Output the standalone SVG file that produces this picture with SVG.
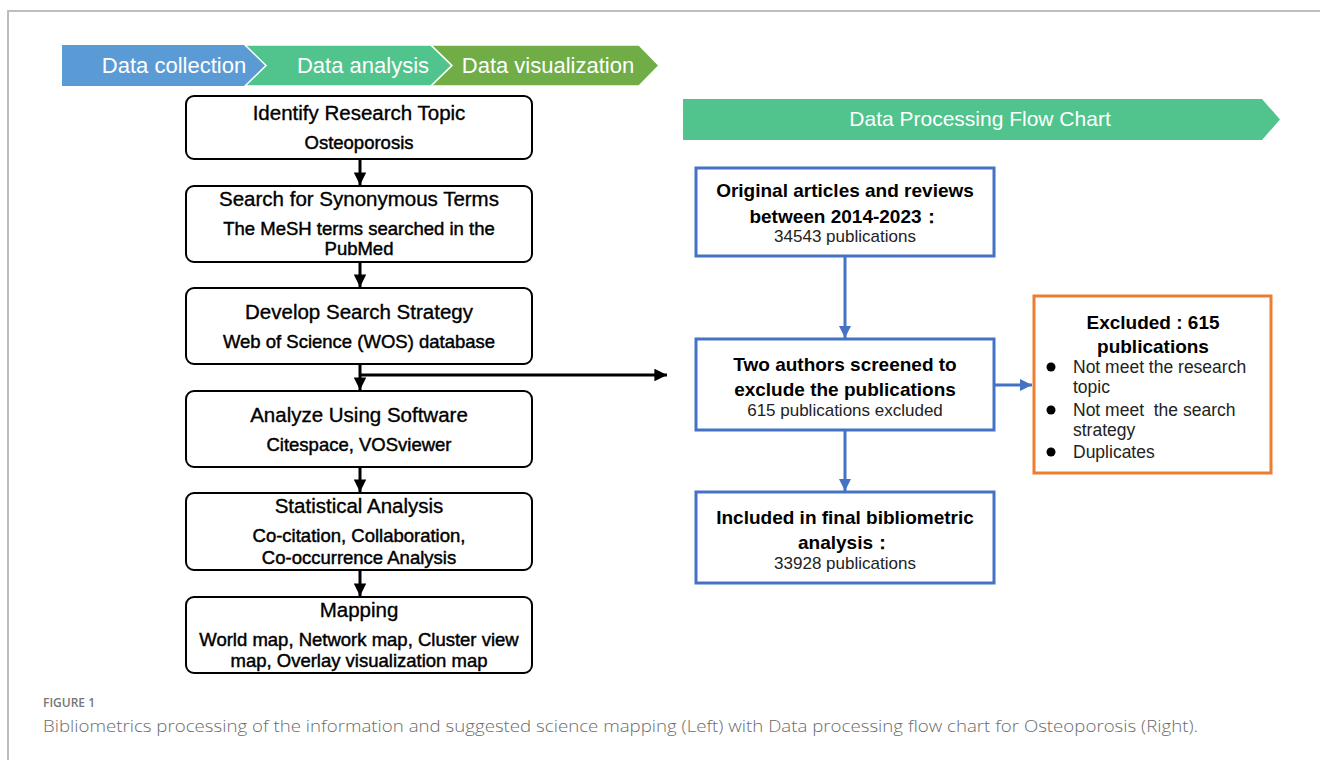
<svg xmlns="http://www.w3.org/2000/svg" width="1320" height="760" viewBox="0 0 1320 760">
<defs>
<style>
.frame{fill:none;stroke:#bdbdbd;stroke-width:2}
.lbox{fill:#fff;stroke:#000;stroke-width:2}
.bbox{fill:#fff;stroke:#4472C4;stroke-width:3}
.obox{fill:#fff;stroke:#ED7D31;stroke-width:3}
.t{font-family:"Liberation Sans",Arial,sans-serif;text-anchor:middle;fill:#000}
.ti{font-size:20.5px;stroke:#000;stroke-width:0.35}
.sub{font-size:18.5px;stroke:#000;stroke-width:0.45}
.rb{font-size:19px;font-weight:bold}
.rr{font-size:17px;fill:#222}
.bn{font-family:"Liberation Sans",Arial,sans-serif;fill:#fff;text-anchor:middle;font-size:22px}
.bl{font-family:"Liberation Sans",Arial,sans-serif;font-size:17.5px;fill:#222}
.cap{font-family:"Open Sans","Liberation Sans",sans-serif;fill:#6b6b6b}
.kline{stroke:#000;stroke-width:3;fill:none}
.bline{stroke:#4472C4;stroke-width:3;fill:none}
</style>
<marker id="ak" viewBox="0 0 10 10" refX="10" refY="5" markerWidth="4.2" markerHeight="4.2" orient="auto" markerUnits="strokeWidth"><path d="M0,0 L10,5 L0,10 z" fill="#000"/></marker>
<marker id="ab" viewBox="0 0 10 10" refX="10" refY="5" markerWidth="4" markerHeight="4" orient="auto" markerUnits="strokeWidth"><path d="M0,0 L10,5 L0,10 z" fill="#4472C4"/></marker>
</defs>
<rect width="1320" height="760" fill="#fff"/>
<path class="frame" d="M8,770 L8,11 L1330,11"/>

<g id="phase-banner">
<polygon points="62,45 245,45 266,65.5 245,86 62,86" fill="#5B9BD5"/>
<polygon points="245,45 431,45 452,65.5 431,86 245,86 266,65.5" fill="#50C48C" stroke="#fff" stroke-width="1.5"/>
<polygon points="431,45 639,45 659,65.5 639,86 431,86 452,65.5" fill="#70AD47" stroke="#fff" stroke-width="1.5"/>
<text class="bn" x="174" y="73">Data collection</text>
<text class="bn" x="363" y="73">Data analysis</text>
<text class="bn" x="548" y="73">Data visualization</text>
</g>

<g id="n1">
<rect class="lbox" x="186" y="96" width="346" height="63" rx="8"/>
<text class="t ti" x="359" y="120">Identify Research Topic</text>
<text class="t sub" x="359" y="149">Osteoporosis</text>
</g>
<g id="n2">
<rect class="lbox" x="186" y="186" width="346" height="76" rx="8"/>
<text class="t ti" x="359" y="206">Search for Synonymous Terms</text>
<text class="t sub" x="359" y="235">The MeSH terms searched in the</text>
<text class="t sub" x="359" y="255">PubMed</text>
</g>
<g id="n3">
<rect class="lbox" x="186" y="288" width="346" height="76" rx="8"/>
<text class="t ti" x="359" y="319">Develop Search Strategy</text>
<text class="t sub" x="359" y="348">Web of Science (WOS) database</text>
</g>
<g id="n4">
<rect class="lbox" x="186" y="391" width="346" height="76" rx="8"/>
<text class="t ti" x="359" y="422">Analyze Using Software</text>
<text class="t sub" x="359" y="451">Citespace, VOSviewer</text>
</g>
<g id="n5">
<rect class="lbox" x="186" y="493" width="346" height="77" rx="8"/>
<text class="t ti" x="359" y="513">Statistical Analysis</text>
<text class="t sub" x="359" y="542">Co-citation, Collaboration,</text>
<text class="t sub" x="359" y="564">Co-occurrence Analysis</text>
</g>
<g id="n6">
<rect class="lbox" x="186" y="597" width="346" height="76" rx="8"/>
<text class="t ti" x="359" y="617">Mapping</text>
<text class="t sub" x="359" y="646">World map, Network map, Cluster view</text>
<text class="t sub" x="359" y="667">map, Overlay visualization map</text>
</g>

<g id="flow-banner">
<polygon points="683,99 1262,99 1280,119.5 1262,140 683,140" fill="#50C48C"/>
<text class="bn" x="980" y="126" style="font-size:21px">Data Processing Flow Chart</text>
</g>

<g id="r1">
<rect class="bbox" x="696" y="168" width="298" height="88"/>
<text class="t rb" x="845" y="197">Original articles and reviews</text>
<text class="t rb" x="845" y="223">between 2014-2023：</text>
<text class="t rr" x="845" y="242">34543 publications</text>
</g>
<g id="r2">
<rect class="bbox" x="696" y="339" width="298" height="91"/>
<text class="t rb" x="845" y="371">Two authors screened to</text>
<text class="t rb" x="845" y="396">exclude the publications</text>
<text class="t rr" x="845" y="416">615 publications excluded</text>
</g>
<g id="r3">
<rect class="obox" x="1034" y="296" width="237" height="177"/>
<text class="t rb" x="1153" y="329">Excluded : 615</text>
<text class="t rb" x="1153" y="353">publications</text>
<circle cx="1051" cy="367" r="4.5" fill="#000"/>
<text class="bl" x="1073" y="373">Not meet the research</text>
<text class="bl" x="1073" y="393">topic</text>
<circle cx="1051" cy="410" r="4.5" fill="#000"/>
<text class="bl" x="1073" y="416" xml:space="preserve">Not meet  the search</text>
<text class="bl" x="1073" y="436">strategy</text>
<circle cx="1051" cy="452" r="4.5" fill="#000"/>
<text class="bl" x="1073" y="458">Duplicates</text>
</g>
<g id="r4">
<rect class="bbox" x="696" y="492" width="298" height="91"/>
<text class="t rb" x="845" y="524">Included in final bibliometric</text>
<text class="t rb" x="845" y="549">analysis：</text>
<text class="t rr" x="845" y="569">33928 publications</text>
</g>

<g id="connectors">
<line class="kline" x1="360" y1="159" x2="360" y2="185" marker-end="url(#ak)"/>
<line class="kline" x1="360" y1="262" x2="360" y2="287" marker-end="url(#ak)"/>
<line class="kline" x1="360" y1="364" x2="360" y2="390" marker-end="url(#ak)"/>
<line class="kline" x1="359" y1="375" x2="667" y2="375" marker-end="url(#ak)"/>
<line class="kline" x1="360" y1="467" x2="360" y2="492" marker-end="url(#ak)"/>
<line class="kline" x1="360" y1="570" x2="360" y2="596" marker-end="url(#ak)"/>
<line class="bline" x1="845" y1="256" x2="845" y2="338" marker-end="url(#ab)"/>
<line class="bline" x1="845" y1="430" x2="845" y2="491" marker-end="url(#ab)"/>
<line class="bline" x1="994" y1="385" x2="1032" y2="385" marker-end="url(#ab)"/>
</g>

<g id="caption">
<text class="cap" x="43" y="707" style="font-size:12px;font-weight:600;fill:#777">FIGURE 1</text>
<text class="cap" x="43" y="732" textLength="1155" lengthAdjust="spacingAndGlyphs" style="font-size:17px;font-weight:300">Bibliometrics processing of the information and suggested science mapping (Left) with Data processing flow chart for Osteoporosis (Right).</text>
</g>
</svg>
